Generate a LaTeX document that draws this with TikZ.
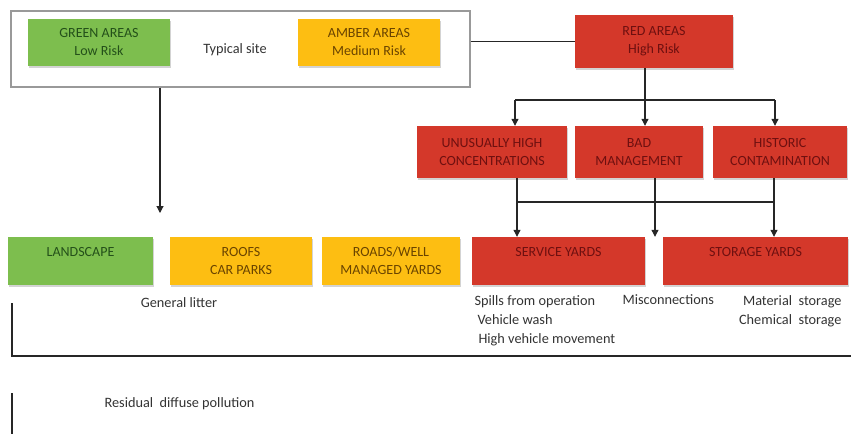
\documentclass[tikz,border=0pt]{standalone}
\usepackage{fontspec}
\setmainfont{Carlito}
\usetikzlibrary{arrows.meta,shadows,calc}
\definecolor{lowrisk}{HTML}{7DBE4E}
\definecolor{medrisk}{HTML}{FDBE12}
\definecolor{highrisk}{HTML}{D4382A}
\definecolor{lowtext}{HTML}{24501A}
\definecolor{medtext}{HTML}{6A4400}
\definecolor{hightext}{HTML}{6E1010}
\tikzset{
  area/.style={fill=#1, inner sep=0pt, align=center,
    font=\fontsize{14}{18}\selectfont,
    drop shadow={shadow xshift=1pt, shadow yshift=-2pt, opacity=0.35}},
  low/.style={area=lowrisk, text=lowtext},
  medium/.style={area=medrisk, text=medtext},
  high/.style={area=highrisk, text=hightext},
  note/.style={font=\fontsize{14.3}{19}\selectfont, text=black!80},
  link/.style={draw=black!85, line width=1.1pt},
  feed/.style={link, -{Triangle[width=7pt,length=7pt]}}
}
\begin{document}
\begin{tikzpicture}[x=1pt,y=-1pt]
\useasboundingbox (0,0) rectangle (851,434);

\node[draw=black!40, line width=1.2pt, minimum width=459, minimum height=76] (site) at (240.5,49) {};
\node[low, minimum width=142, minimum height=47] (green) at (99,42.5) {GREEN AREAS\\Low Risk};
\node[note] (typical) at (235,50) {Typical site};
\node[medium, minimum width=142, minimum height=47] (amber) at (369,42.5) {AMBER AREAS\\Medium Risk};
\node[high, minimum width=158, minimum height=53] (red) at (654,41.5) {RED AREAS\\High Risk};

\node[high, minimum width=150, minimum height=52] (uhc) at (492,152) {UNUSUALLY HIGH\\CONCENTRATIONS};
\node[high, minimum width=128, minimum height=52] (badmgmt) at (639,152) {BAD\\MANAGEMENT};
\node[high, minimum width=134, minimum height=52] (historic) at (780,152) {HISTORIC\\CONTAMINATION};

\node[low, minimum width=145, minimum height=48] (landscape) at (80.5,261) {LANDSCAPE\\\mbox{}};
\node[medium, minimum width=142, minimum height=48] (roofs) at (241,261) {ROOFS\\CAR PARKS};
\node[medium, minimum width=138, minimum height=48] (roads) at (391,261) {ROADS/WELL\\MANAGED YARDS};
\node[high, minimum width=173, minimum height=48] (service) at (558.5,261) {SERVICE YARDS\\\mbox{}};
\node[high, minimum width=185, minimum height=48] (storage) at (755.5,261) {STORAGE YARDS\\\mbox{}};

\node[note] (litter) at (179,303) {General litter};
\node[note, align=left, anchor=north west] (spills) at (471,292) {Spills from operation\\\hspace{3pt}Vehicle wash\\\hspace{4pt}High vehicle movement};
\node[note, anchor=west] (misconn) at (619,300) {Misconnections};
\node[note, align=right, anchor=north east] (material) at (845,292) {Material~ storage\\Chemical~ storage};
\node[note, anchor=west] (residual) at (101,404) {Residual~ diffuse pollution};

\draw[link] (site.east |- red.west) -- (red.west);

\coordinate (split) at ($(red.south)+(-9,0)$);
\coordinate (fork) at (split |- 0,100);
\draw[link] (split) -- (fork);
\draw[link] (fork -| 515,0) -- (fork -| 775,0);
\draw[feed] (fork -| 515,0) -- (uhc.north -| 515,0);
\draw[feed] (fork) -- (badmgmt.north -| fork);
\draw[feed] (fork -| 775,0) -- (historic.north -| 775,0);

\coordinate (join) at (0,202);
\draw[link] (uhc.south -| 517,0) -- (join -| 517,0);
\draw[link] (join -| 517,0) -- (join -| 774,0);
\draw[feed] (join -| 517,0) -- (service.north -| 517,0);
\draw[feed] (badmgmt.south -| 655,0) -- (service.north -| 655,0);
\draw[feed] (historic.south -| 774,0) -- (storage.north -| 774,0);

\coordinate (drop) at (160,213);
\draw[feed] (site.south -| drop) -- (drop);

\draw[link] (12,303) -- (12,356) -- (851,356);
\draw[link] (12,393) -- (12,434);
\end{tikzpicture}
\end{document}
